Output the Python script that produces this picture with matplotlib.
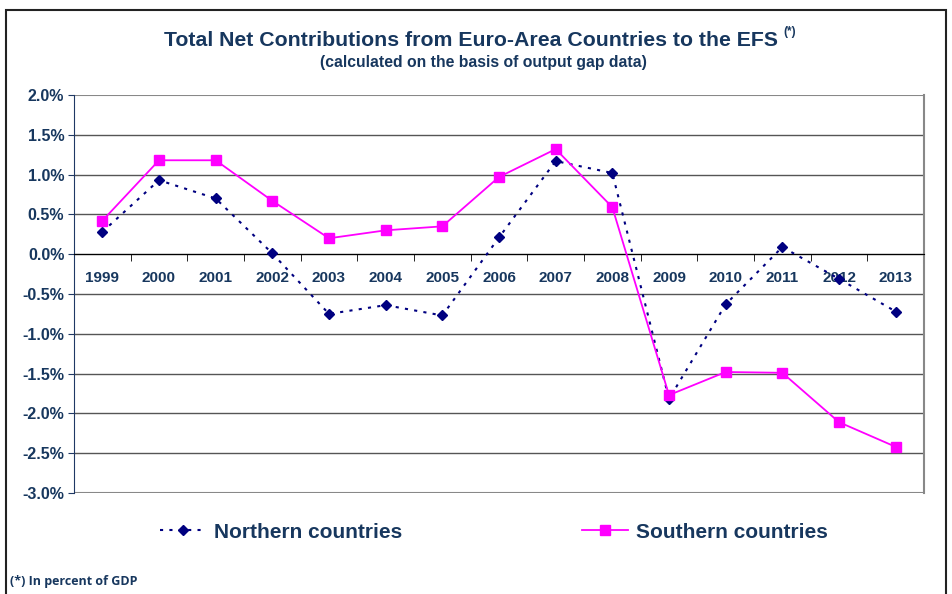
import numpy as np
import matplotlib
matplotlib.use("Agg")
import matplotlib.pyplot as plt
from matplotlib.patches import Rectangle

years = ["1999", "2000", "2001", "2002", "2003", "2004", "2005", "2006",
         "2007", "2008", "2009", "2010", "2011", "2012", "2013"]
northern = [0.28, 0.93, 0.70, 0.01, -0.75, -0.64, -0.77, 0.21,
            1.17, 1.02, -1.82, -0.63, 0.09, -0.31, -0.72]
southern = [0.42, 1.18, 1.18, 0.67, 0.20, 0.30, 0.35, 0.97,
            1.32, 0.59, -1.77, -1.48, -1.49, -2.11, -2.42]
yticks = [2.0, 1.5, 1.0, 0.5, 0.0, -0.5, -1.0, -1.5, -2.0, -2.5, -3.0]

navy_txt = "#17375E"
plt.rcParams["font.family"] = ["Liberation Sans", "DejaVu Sans"]

fig = plt.figure(figsize=(9.52, 5.94), dpi=100)
fig.patches.append(Rectangle((6 / 952, -0.05), 940 / 952, 1 - 10 / 594 + 0.05,
                             transform=fig.transFigure, fill=False,
                             edgecolor="#222222", linewidth=1.5))

ax = fig.add_axes([74 / 952, 101 / 594, 850 / 952, 398 / 594])
x = np.arange(len(years))

# grid lines
for v in yticks:
    edge = v in (2.0, -3.0)
    ax.axhline(v, color="#888888" if edge else "#555555",
               linewidth=1.5 if edge else 1, zorder=1)

ax.plot(x, northern, linestyle=(0, (1.5, 3)), color="#000080", linewidth=1.5,
        marker="D", markersize=5, label="Northern countries", zorder=3)
ax.plot(x, southern, linestyle="-", color="#FF00FF", linewidth=1.3,
        marker="s", markersize=6.5, label="Southern countries", zorder=4)

ax.set_xlim(-0.5, len(years) - 0.5)
ax.set_ylim(-3.0, 2.0)

ax.spines["bottom"].set_position(("data", 0))
ax.spines["bottom"].set_color("black")
ax.spines["top"].set_visible(False)
ax.spines["right"].set_color("#888888")
ax.spines["right"].set_linewidth(1.5)
ax.spines["left"].set_color("#1F3864")

ax.set_xticks(x)
ax.set_xticklabels(years, fontsize=11, fontweight="bold", color=navy_txt)
ax.set_xticks(np.arange(-0.5, len(years), 1.0), minor=True)
ax.tick_params(axis="x", which="major", length=0, pad=12)
ax.tick_params(axis="x", which="minor", length=5, direction="out", color="black")

ax.set_yticks(yticks)
ax.set_yticklabels([f"{v:.1f}%" for v in yticks], fontsize=11.5,
                   fontweight="bold", color=navy_txt)
ax.tick_params(axis="y", length=4, color="#1F3864", pad=3)

fig.text(471 / 952, 1 - 41 / 594, "Total Net Contributions from Euro-Area Countries to the EFS",
         ha="center", va="center", fontsize=15.3, fontweight="bold", color=navy_txt)
fig.text(783 / 952, 1 - 32 / 594, "(*)", ha="left", va="center", fontsize=8.5,
         fontweight="bold", color=navy_txt)
fig.text(483 / 952, 1 - 62 / 594, "(calculated on the basis of output gap data)",
         ha="center", va="center", fontsize=11.3, fontweight="bold", color=navy_txt)

leg = fig.legend(loc="center", bbox_to_anchor=(494 / 952, 1 - 532 / 594), ncol=2,
                 frameon=False, columnspacing=8.6, handlelength=2.2,
                 handletextpad=0.4, prop={"size": 15, "weight": "bold"})
for t in leg.get_texts():
    t.set_color(navy_txt)

fig.text(10 / 952, 1 - 582 / 594, "(*) In percent of GDP", ha="left", va="center",
         fontsize=9, fontweight="bold", color=navy_txt,
         family=["Open Sans", "DejaVu Sans"])

fig.savefig("out.png", dpi=100)
